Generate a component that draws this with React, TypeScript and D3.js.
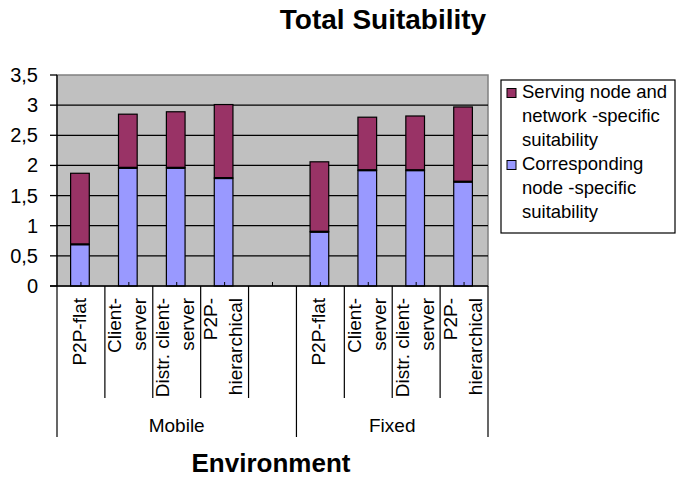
import React from "react";
import * as d3 from "d3";

const groups = ["Mobile", "Fixed"];
const architectures = ["P2P-flat", "Client-\nserver", "Distr. client-\nserver", "P2P-\nhierarchical"];
const correspondingMobile = [0.69, 1.96, 1.96, 1.79];
const servingMobile = [1.18, 0.89, 0.93, 1.22];
const correspondingFixed = [0.9, 1.92, 1.92, 1.73];
const servingFixed = [1.16, 0.88, 0.9, 1.24];
const yTicks = [0, 0.5, 1, 1.5, 2, 2.5, 3, 3.5];
const seriesNames = ["Serving node and\nnetwork -specific\nsuitability", "Corresponding\nnode -specific\nsuitability"];
const seriesColors = ["#993366", "#9999FF"];

type Slot = { key: string; group: string; label: string | null; corr: number; serv: number };

const slots: Slot[] = [];
groups.forEach((g, gi) => {
  const corr = gi === 0 ? correspondingMobile : correspondingFixed;
  const serv = gi === 0 ? servingMobile : servingFixed;
  architectures.forEach((a, i) => slots.push({ key: `${g}|${i}`, group: g, label: a, corr: corr[i], serv: serv[i] }));
  if (gi === 0) slots.push({ key: `${g}|gap`, group: g, label: null, corr: 0, serv: 0 });
});

const FONT = "'Liberation Sans', Arial, sans-serif";

export default function App() {
  const left = 57, right = 488, top = 75, bottom = 286;
  const x = d3.scaleBand<string>().domain(slots.map((s) => s.key)).range([left, right]).paddingInner(0).paddingOuter(0);
  const y = d3.scaleLinear().domain([0, 3.5]).range([bottom, top]);
  const bw = x.bandwidth();
  const barW = bw * 0.39;

  const groupEdges: number[] = [];
  groups.forEach((g) => {
    const ks = slots.filter((s) => s.group === g);
    groupEdges.push(x(ks[0].key)!);
  });
  groupEdges.push(right);

  return (
    <svg width={677} height={479} style={{ position: "absolute", left: 0, top: 0, background: "#fff" }} fontFamily={FONT}>
      <text x={383} y={29} textAnchor="middle" fontSize={28} fontWeight="bold">Total Suitability</text>
      {/* plot area */}
      <rect x={left} y={top} width={right - left} height={bottom - top} fill="#C0C0C0" stroke="#808080" strokeWidth={1.5} />
      {yTicks.filter((t) => t > 0 && t < 3.5).map((t) => (
        <line key={t} x1={left} x2={right} y1={y(t)} y2={y(t)} stroke="#000" strokeWidth={1.3} />
      ))}
      {/* bars */}
      {slots.filter((s) => s.label).map((s) => {
        const bx = x(s.key)! + bw / 2 - barW / 2 - 1;
        return (
          <g key={s.key}>
            <rect x={bx} y={y(s.corr)} width={barW} height={y(0) - y(s.corr)} fill={seriesColors[1]} stroke="#000" strokeWidth={1.2} />
            <rect x={bx} y={y(s.corr + s.serv)} width={barW} height={y(s.corr) - y(s.corr + s.serv)} fill={seriesColors[0]} stroke="#000" strokeWidth={1.2} />
            <line x1={bx} x2={bx + barW} y1={y(s.corr)} y2={y(s.corr)} stroke="#000" strokeWidth={2.2} />
          </g>
        );
      })}
      {/* inner ticks at category centers */}
      {slots.map((s) => (
        <line key={s.key} x1={x(s.key)! + bw / 2} x2={x(s.key)! + bw / 2} y1={bottom} y2={bottom - 4} stroke="#000" strokeWidth={1} />
      ))}
      {/* axes */}
      <line x1={left} x2={left} y1={top} y2={bottom} stroke="#000" strokeWidth={1.3} />
      <line x1={left - 7} x2={right} y1={bottom} y2={bottom} stroke="#000" strokeWidth={1.3} />
      {yTicks.map((t) => (
        <g key={t}>
          <line x1={left - 7} x2={left} y1={y(t)} y2={y(t)} stroke="#000" strokeWidth={1.3} />
          <text x={38} y={y(t) + 7} textAnchor="end" fontSize={20}>{String(t).replace(".", ",")}</text>
        </g>
      ))}
      {/* category separators */}
      {slots.map((s) => {
        const xe = x(s.key)!;
        const isGroup = groupEdges.includes(xe);
        return <line key={s.key} x1={xe} x2={xe} y1={bottom} y2={isGroup ? 437 : 398} stroke="#000" strokeWidth={1.2} />;
      })}
      <line x1={right} x2={right} y1={bottom} y2={437} stroke="#000" strokeWidth={1.2} />
      {/* category labels */}
      {slots.filter((s) => s.label).map((s) => {
        const lines = s.label!.split("\n");
        const cx = x(s.key)! + bw / 2;
        const sp = 25;
        return lines.map((ln, li) => {
          const lx = cx + (li - (lines.length - 1) / 2) * sp + 5;
          return (
            <text key={s.key + li} transform={`translate(${lx},298) rotate(-90)`} textAnchor="end" fontSize={19}>{ln}</text>
          );
        });
      })}
      {groups.map((g, gi) => (
        <text key={g} x={(groupEdges[gi] + groupEdges[gi + 1]) / 2} y={432} textAnchor="middle" fontSize={19}>{g}</text>
      ))}
      <text x={271} y={472} textAnchor="middle" fontSize={26} fontWeight="bold">Environment</text>
      {/* legend */}
      <rect x={501} y={80} width={174} height={153} fill="#fff" stroke="#000" strokeWidth={1.2} />
      {seriesNames.map((name, si) => {
        const baseY = 98 + si * 72;
        return (
          <g key={si}>
            <rect x={507} y={baseY - 9.5} width={9} height={9} fill={seriesColors[si]} stroke="#000" strokeWidth={1} />
            {name.split("\n").map((ln, li) => (
              <text key={li} x={522} y={baseY + li * 24} fontSize={18.5}>{ln}</text>
            ))}
          </g>
        );
      })}
    </svg>
  );
}
